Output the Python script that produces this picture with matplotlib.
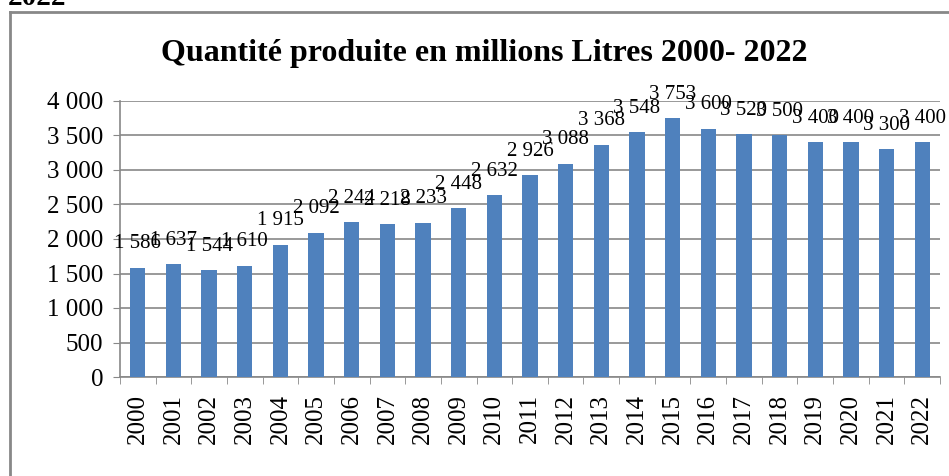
import matplotlib
matplotlib.use("Agg")
import matplotlib.pyplot as plt
from matplotlib.lines import Line2D

years = [str(y) for y in range(2000, 2023)]
values = [1586, 1637, 1544, 1610, 1915, 2092, 2244, 2218, 2233, 2448, 2632, 2926,
          3088, 3368, 3548, 3753, 3600, 3520, 3500, 3400, 3400, 3300, 3400]
yticks = [0, 500, 1000, 1500, 2000, 2500, 3000, 3500, 4000]

def fmt(v):
    return f"{v:,}".replace(",", " ")

plt.rcParams['font.family'] = ['Liberation Serif', 'DejaVu Serif']

fig = plt.figure(figsize=(9.49, 4.76), dpi=100)
ax = fig.add_axes([120/949, 1-377/476, 820/949, 276/476])

x = list(range(len(years)))
ax.bar(x, values, width=0.43, color='#4F81BD', zorder=3)
ax.set_xlim(-0.5, len(years)-0.5)
ax.set_ylim(0, 4000)
ax.set_yticks(yticks)
ax.set_yticklabels([fmt(v) for v in yticks], fontsize=18)
ax.set_xticks(x)
ax.set_xticklabels(years, rotation=90, fontsize=18)
ax.tick_params(axis='x', length=0, pad=12)
ax.set_xticks([i - 0.5 for i in range(len(years)+1)], minor=True)
ax.tick_params(axis='x', which='minor', length=5, color='#888888', direction='out')
ax.tick_params(axis='y', length=5, color='#888888', direction='out', pad=7)
ax.grid(axis='y', color='#888888', linewidth=1.2, zorder=0)
for s in ['top', 'right']:
    ax.spines[s].set_visible(False)
for s in ['left', 'bottom']:
    ax.spines[s].set_color('#888888')
    ax.spines[s].set_linewidth(1.2)

for xi, v in zip(x, values):
    ax.annotate(fmt(v), (xi, v), xytext=(0, 14), textcoords='offset points',
                ha='center', va='baseline', fontsize=15, zorder=4)

fig.text(0.51, 1-54/476, "Quantité produite en millions Litres 2000- 2022",
         ha='center', va='center', fontsize=23, fontweight='bold')
fig.text(8/949, 1-5/476, "2022", ha='left', va='baseline', fontsize=21, fontweight='bold')

# outer border
fig.add_artist(Line2D([10/949, 10/949], [0, 1-12/476], transform=fig.transFigure,
                      color='#888888', linewidth=2))
fig.add_artist(Line2D([10/949, 1], [1-12/476, 1-12/476], transform=fig.transFigure,
                      color='#888888', linewidth=2))

fig.savefig("out.png", dpi=100)
